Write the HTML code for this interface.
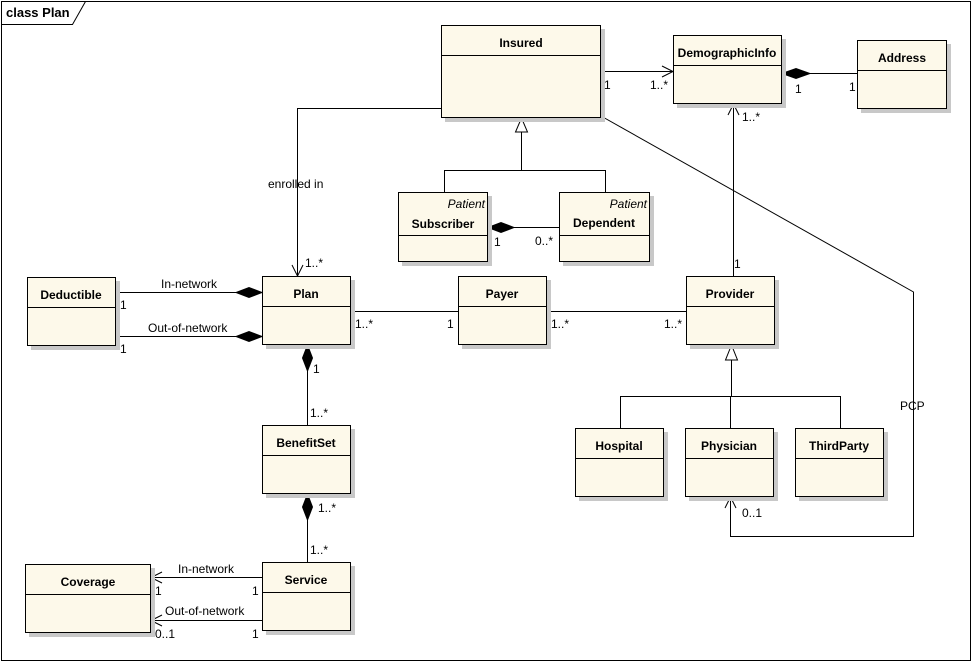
<!DOCTYPE html>
<html><head><meta charset="utf-8"><style>
body{margin:0;background:#fff}
svg{display:block}
text{font-family:"Liberation Sans",sans-serif;font-size:12px;fill:#000}
.b{font-weight:bold;text-anchor:middle}
.i{font-style:italic;text-anchor:end}
</style></head><body>
<svg width="973" height="663" viewBox="0 0 973 663" xmlns="http://www.w3.org/2000/svg">
<rect x="0" y="0" width="973" height="663" fill="#fff"/>
<rect x="1.5" y="1.5" width="969" height="659" fill="none" stroke="#000"/>
<polyline points="1.5,24.5 72.5,24.5 85.5,1.5" fill="none" stroke="#000"/>
<text x="6" y="17" style="font-weight:bold;font-size:13px">class Plan</text>

<g fill="none" stroke="#000">
<!-- Insured to Plan -->
<polyline points="441,108.5 297.5,108.5 297.5,276"/>
<polyline points="292,265 297.5,276 303,265"/>
<!-- Insured to Demographic -->
<line x1="601" y1="71.5" x2="673" y2="71.5"/>
<polyline points="662,66 673,71.5 662,77"/>
<!-- Address - Demo -->
<line x1="810" y1="73.5" x2="857" y2="73.5"/>
<!-- Insured generalization -->
<line x1="521.5" y1="132" x2="521.5" y2="170.5"/>
<polyline points="444.5,192 444.5,170.5 605.5,170.5 605.5,192"/>
<!-- Subscriber-Dependent -->
<line x1="514" y1="227.5" x2="559" y2="227.5"/>
<!-- PCP -->
<polyline points="601,116 913.5,292 913.5,536.5 730.5,536.5 730.5,497"/>
<polyline points="725,508 730.5,497 736,508"/>
<!-- Provider to Demo -->
<line x1="733.5" y1="276" x2="733.5" y2="104"/>
<polyline points="728,115 733.5,104 739,115"/>
<!-- Plan-Payer-Provider -->
<line x1="351" y1="311.5" x2="458" y2="311.5"/>
<line x1="547" y1="311.5" x2="686" y2="311.5"/>
<!-- Provider generalization -->
<line x1="731.5" y1="360" x2="731.5" y2="396.5"/>
<polyline points="620.5,428 620.5,396.5 840.5,396.5 840.5,428"/>
<line x1="730.5" y1="396.5" x2="730.5" y2="428"/>
<!-- Deductible-Plan -->
<line x1="116" y1="292.5" x2="236" y2="292.5"/>
<line x1="116" y1="336.5" x2="236" y2="336.5"/>
<!-- Plan-BenefitSet -->
<line x1="307.5" y1="371" x2="307.5" y2="425"/>
<line x1="307.5" y1="520" x2="307.5" y2="562"/>
<!-- Service-Coverage -->
<line x1="262" y1="577.5" x2="151" y2="577.5"/>
<polyline points="162,572 151,577.5 162,583"/>
<line x1="262" y1="620.5" x2="151" y2="620.5"/>
<polyline points="162,615 151,620.5 162,626"/>
</g>
<g fill="#fff" stroke="#000">
<polygon points="521.5,118 515.5,132 527.5,132"/>
<polygon points="731.5,345 725.5,360 737.5,360"/>
</g>
<g fill="#000" stroke="#000">
<polygon points="782,73.5 796,68.5 810,73.5 796,78.5"/>
<polygon points="488,227.5 501,222.5 514,227.5 501,232.5"/>
<polygon points="262,292.5 249,287.5 236,292.5 249,297.5"/>
<polygon points="262,336.5 249,331.5 236,336.5 249,341.5"/>
<polygon points="307.5,345 302.5,358 307.5,371 312.5,358"/>
<polygon points="307.5,494 302.5,507 307.5,520 312.5,507"/>
</g>

<!-- boxes -->
<g>
<g transform="translate(441,25)"><rect x="4" y="4" width="160" height="93" fill="#c8c8c8"/><rect x=".5" y=".5" width="159" height="92" fill="#fdf9ea" stroke="#000"/><line x1="0" y1="30.5" x2="160" y2="30.5" stroke="#000"/></g>
<g transform="translate(673,35)"><rect x="4" y="4" width="109" height="69" fill="#c8c8c8"/><rect x=".5" y=".5" width="108" height="68" fill="#fdf9ea" stroke="#000"/><line x1="0" y1="30.5" x2="109" y2="30.5" stroke="#000"/></g>
<g transform="translate(857,40)"><rect x="4" y="4" width="90" height="69" fill="#c8c8c8"/><rect x=".5" y=".5" width="89" height="68" fill="#fdf9ea" stroke="#000"/><line x1="0" y1="30.5" x2="90" y2="30.5" stroke="#000"/></g>
<g transform="translate(398,192)"><rect x="4" y="4" width="90" height="70" fill="#c8c8c8"/><rect x=".5" y=".5" width="89" height="69" fill="#fdf9ea" stroke="#000"/><line x1="0" y1="43.5" x2="90" y2="43.5" stroke="#000"/></g>
<g transform="translate(559,192)"><rect x="4" y="4" width="91" height="70" fill="#c8c8c8"/><rect x=".5" y=".5" width="90" height="69" fill="#fdf9ea" stroke="#000"/><line x1="0" y1="43.5" x2="91" y2="43.5" stroke="#000"/></g>
<g transform="translate(27,277)"><rect x="4" y="4" width="89" height="69" fill="#c8c8c8"/><rect x=".5" y=".5" width="88" height="68" fill="#fdf9ea" stroke="#000"/><line x1="0" y1="30.5" x2="89" y2="30.5" stroke="#000"/></g>
<g transform="translate(262,276)"><rect x="4" y="4" width="89" height="69" fill="#c8c8c8"/><rect x=".5" y=".5" width="88" height="68" fill="#fdf9ea" stroke="#000"/><line x1="0" y1="30.5" x2="89" y2="30.5" stroke="#000"/></g>
<g transform="translate(458,276)"><rect x="4" y="4" width="89" height="69" fill="#c8c8c8"/><rect x=".5" y=".5" width="88" height="68" fill="#fdf9ea" stroke="#000"/><line x1="0" y1="30.5" x2="89" y2="30.5" stroke="#000"/></g>
<g transform="translate(686,276)"><rect x="4" y="4" width="89" height="69" fill="#c8c8c8"/><rect x=".5" y=".5" width="88" height="68" fill="#fdf9ea" stroke="#000"/><line x1="0" y1="30.5" x2="89" y2="30.5" stroke="#000"/></g>
<g transform="translate(262,425)"><rect x="4" y="4" width="89" height="69" fill="#c8c8c8"/><rect x=".5" y=".5" width="88" height="68" fill="#fdf9ea" stroke="#000"/><line x1="0" y1="30.5" x2="89" y2="30.5" stroke="#000"/></g>
<g transform="translate(575,428)"><rect x="4" y="4" width="89" height="69" fill="#c8c8c8"/><rect x=".5" y=".5" width="88" height="68" fill="#fdf9ea" stroke="#000"/><line x1="0" y1="30.5" x2="89" y2="30.5" stroke="#000"/></g>
<g transform="translate(685,428)"><rect x="4" y="4" width="89" height="69" fill="#c8c8c8"/><rect x=".5" y=".5" width="88" height="68" fill="#fdf9ea" stroke="#000"/><line x1="0" y1="30.5" x2="89" y2="30.5" stroke="#000"/></g>
<g transform="translate(795,428)"><rect x="4" y="4" width="89" height="69" fill="#c8c8c8"/><rect x=".5" y=".5" width="88" height="68" fill="#fdf9ea" stroke="#000"/><line x1="0" y1="30.5" x2="89" y2="30.5" stroke="#000"/></g>
<g transform="translate(25,564)"><rect x="4" y="4" width="126" height="69" fill="#c8c8c8"/><rect x=".5" y=".5" width="125" height="68" fill="#fdf9ea" stroke="#000"/><line x1="0" y1="30.5" x2="126" y2="30.5" stroke="#000"/></g>
<g transform="translate(262,562)"><rect x="4" y="4" width="89" height="69" fill="#c8c8c8"/><rect x=".5" y=".5" width="88" height="68" fill="#fdf9ea" stroke="#000"/><line x1="0" y1="30.5" x2="89" y2="30.5" stroke="#000"/></g>
</g>

<g>
<text class="b" x="521" y="47">Insured</text>
<text class="b" x="727" y="57">DemographicInfo</text>
<text class="b" x="902" y="62">Address</text>
<text class="i" x="485" y="208">Patient</text>
<text class="b" x="443" y="228">Subscriber</text>
<text class="i" x="647" y="208">Patient</text>
<text class="b" x="604" y="227">Dependent</text>
<text class="b" x="71" y="299">Deductible</text>
<text class="b" x="306" y="298">Plan</text>
<text class="b" x="502" y="298">Payer</text>
<text class="b" x="730" y="298">Provider</text>
<text class="b" x="306" y="447">BenefitSet</text>
<text class="b" x="619" y="450">Hospital</text>
<text class="b" x="729" y="450">Physician</text>
<text class="b" x="839" y="450">ThirdParty</text>
<text class="b" x="88" y="586">Coverage</text>
<text class="b" x="306" y="584">Service</text>
</g>
<g>
<text x="268" y="188">enrolled in</text>
<text x="305" y="267">1..*</text>
<text x="604" y="89">1</text>
<text x="650" y="89">1..*</text>
<text x="795" y="93">1</text>
<text x="849" y="91">1</text>
<text x="494" y="246">1</text>
<text x="535" y="245">0..*</text>
<text x="742" y="121">1..*</text>
<text x="734" y="268">1</text>
<text x="355" y="328">1..*</text>
<text x="447" y="328">1</text>
<text x="551" y="328">1..*</text>
<text x="664" y="328">1..*</text>
<text x="900" y="410">PCP</text>
<text x="742" y="517">0..1</text>
<text x="161" y="288">In-network</text>
<text x="120" y="309">1</text>
<text x="148" y="332">Out-of-network</text>
<text x="120" y="353">1</text>
<text x="313" y="373">1</text>
<text x="310" y="417">1..*</text>
<text x="318" y="512">1..*</text>
<text x="310" y="554">1..*</text>
<text x="178" y="573">In-network</text>
<text x="155" y="595">1</text>
<text x="252" y="595">1</text>
<text x="165" y="615">Out-of-network</text>
<text x="155" y="638">0..1</text>
<text x="252" y="638">1</text>
</g>
</svg>
</body></html>
